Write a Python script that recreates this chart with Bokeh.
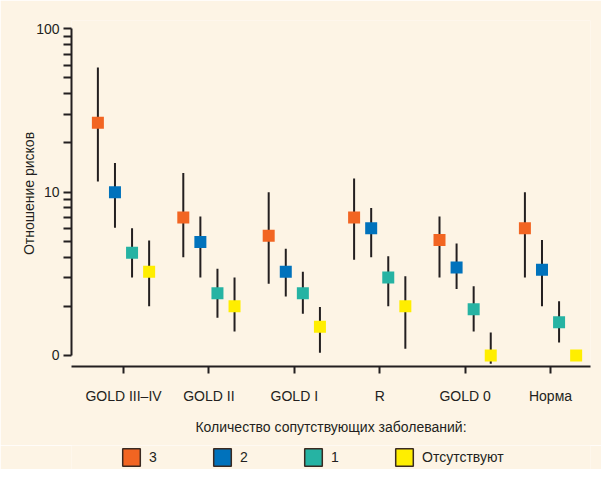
import numpy as np
from bokeh.plotting import figure
from bokeh.layouts import column
from bokeh.models import Range1d, FixedTicker, ColumnDataSource, Legend, LegendItem, Title
from bokeh.embed import file_html
from bokeh.resources import INLINE

# ---- data ----
categories = ["GOLD III–IV", "GOLD II", "GOLD I", "R", "GOLD 0", "Норма"]
series_names = ["3", "2", "1", "Отсутствуют"]

s3_mid = [26.6, 7.0, 5.4, 7.0, 5.1, 6.0]
s3_lo = [11.6, 4.0, 2.75, 3.85, 3.0, 3.0]
s3_hi = [58.0, 13.1, 10.0, 12.1, 7.1, 10.0]

s2_mid = [10.0, 4.95, 3.25, 6.0, 3.45, 3.35]
s2_lo = [6.05, 3.0, 2.3, 4.0, 2.55, 2.0]
s2_hi = [15.1, 7.1, 4.5, 8.0, 4.85, 5.1]

s1_mid = [4.25, 2.4, 2.4, 3.0, 1.92, 1.6]
s1_lo = [3.0, 1.7, 1.8, 2.0, 1.4, 1.2]
s1_hi = [6.0, 3.4, 3.25, 4.05, 2.65, 2.15]

s0_mid = [3.25, 2.0, 1.5, 2.0, 1.0, 1.0]
s0_lo = [2.0, 1.4, 1.04, 1.1, 0.89, float("nan")]
s0_hi = [5.05, 3.0, 1.98, 3.05, 1.38, float("nan")]

y_ticks = [1, 10, 100]
y_tick_labels = ["0", "10", "100"]
y_minor_ticks = [2, 3, 4, 5, 6, 7, 8, 9, 20, 30, 40, 50, 60, 70, 80, 90]

# ---- styling ----
colors = ["#F26522", "#0072BC", "#26B3A3", "#FFEE00"]
offsets = [-0.3, -0.1, 0.1, 0.3]
BG = "#FDF4E5"
INK = "#231F20"
FONT = "Liberation Sans"

p = figure(width=601, height=445, y_axis_type="log",
           x_range=Range1d(-0.609, 5.468), y_range=Range1d(0.856, 112.4),
           output_backend="svg", toolbar_location=None,
           min_border_left=71, min_border_right=11, min_border_top=20, min_border_bottom=79)

p.background_fill_color = BG
p.border_fill_color = BG
p.outline_line_color = None
p.grid.visible = False

series = [(s3_mid, s3_lo, s3_hi), (s2_mid, s2_lo, s2_hi), (s1_mid, s1_lo, s1_hi), (s0_mid, s0_lo, s0_hi)]
base = np.arange(len(categories))
for (mid, lo, hi), col, off in zip(series, colors, offsets):
    src = ColumnDataSource(dict(x=base + off, mid=mid, lo=lo, hi=hi))
    p.segment(x0="x", x1="x", y0="lo", y1="hi", source=src, line_color=INK, line_width=2)
    p.scatter(x="x", y="mid", source=src, marker="square", size=12, fill_color=col, line_color=None)

# y axis
ya = p.yaxis[0]
ya.ticker = FixedTicker(ticks=y_ticks, minor_ticks=y_minor_ticks)
ya.major_label_overrides = {t: l for t, l in zip(y_ticks, y_tick_labels)}
ya.bounds = (y_ticks[0], y_ticks[-1])
ya.axis_line_width = 2
ya.axis_line_color = INK
ya.major_tick_line_width = 2
ya.minor_tick_line_width = 2
ya.major_tick_line_color = INK
ya.minor_tick_line_color = INK
ya.major_tick_in = 0
ya.major_tick_out = 8
ya.minor_tick_in = 0
ya.minor_tick_out = 8
ya.major_label_text_font = FONT
ya.major_label_text_font_size = "14px"
ya.major_label_text_color = INK
ya.major_label_standoff = 4
ya.axis_label = "Отношение рисков"
ya.axis_label_text_font = FONT
ya.axis_label_text_font_size = "14px"
ya.axis_label_text_font_style = "normal"
ya.axis_label_text_color = INK
ya.axis_label_standoff = -4

# x axis
xa = p.xaxis[0]
xa.ticker = FixedTicker(ticks=list(base))
xa.major_label_overrides = {int(i): c for i, c in zip(base, categories)}
xa.axis_line_width = 2
xa.axis_line_color = INK
xa.major_tick_line_width = 2
xa.major_tick_line_color = INK
xa.major_tick_in = 0
xa.major_tick_out = 7
xa.minor_tick_line_color = None
xa.major_label_text_font = FONT
xa.major_label_text_font_size = "14px"
xa.major_label_text_color = INK
xa.major_label_standoff = 14

title = Title(text="Количество сопутствующих заболеваний:", align="center",
              text_font=FONT, text_font_size="14px", text_font_style="normal",
              text_color=INK, standoff=21)
p.add_layout(title, "below")

# ---- legend strip ----
p2 = figure(width=601, height=24, x_range=Range1d(0, 1), y_range=Range1d(0, 1),
            x_axis_location=None, y_axis_location=None,
            output_backend="svg", toolbar_location=None, min_border=0)
p2.background_fill_color = BG
p2.border_fill_color = BG
p2.outline_line_color = None
p2.grid.visible = False

nan = float("nan")
legend_items = []
for col, name in zip(colors, series_names):
    dummy = p2.quad(left=[nan], right=[nan], top=[nan], bottom=[nan], fill_color=col,
                    line_color="#3A2A22", line_width=1.5)
    legend_items.append(LegendItem(label=name, renderers=[dummy]))

legend = Legend(items=legend_items, orientation="horizontal", location=(49, 1),
                glyph_width=22, glyph_height=22, label_standoff=7, label_width=62, spacing=0,
                padding=0, margin=0, background_fill_alpha=0, border_line_alpha=0,
                label_text_font=FONT, label_text_font_size="14px", label_text_color=INK)
p2.add_layout(legend, "center")

layout = column(p, p2, spacing=0)
open("out.html", "w").write(file_html(layout, INLINE))
